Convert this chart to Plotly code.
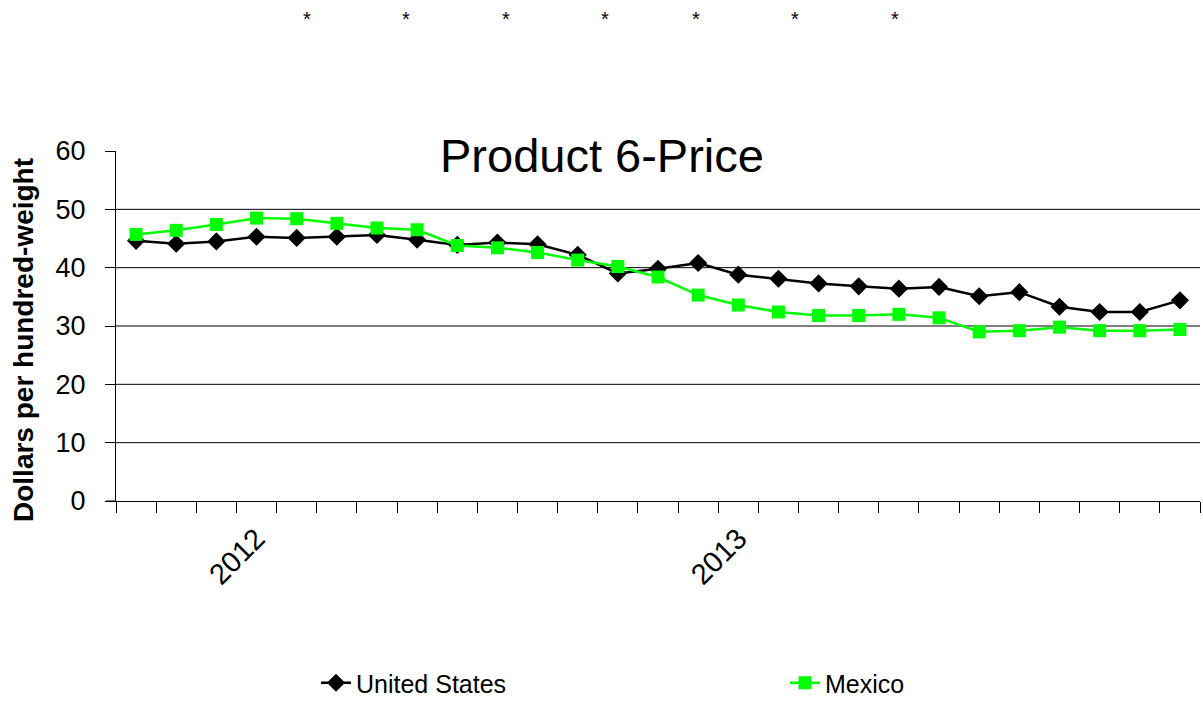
import plotly.graph_objects as go

# Monthly data, Oct 2011 .. Dec 2013 (27 points)
months = list(range(27))
us_price = [44.6, 44.1, 44.5, 45.3, 45.1, 45.3, 45.6, 44.8, 43.9, 44.3, 44.0, 42.2,
            39.0, 39.8, 40.8, 38.8, 38.1, 37.3, 36.8, 36.4, 36.7, 35.1, 35.8, 33.3,
            32.4, 32.4, 34.4]
mexico_price = [45.7, 46.4, 47.4, 48.5, 48.4, 47.6, 46.8, 46.5, 43.8, 43.4, 42.6, 41.3,
                40.2, 38.4, 35.3, 33.6, 32.4, 31.8, 31.8, 32.0, 31.4, 29.0, 29.2, 29.8,
                29.2, 29.2, 29.4]
year_tick_pos = [3, 15]
year_tick_text = ["2012", "2013"]
grid_values = [10, 20, 30, 40, 50]

FONT = "Liberation Sans, Arial, sans-serif"
W, H = 1203, 709
L, R, T, B = 116, 3, 151, 208
PW = W - L - R
PH = H - T - B

def px_x(px):
    return (px - L) / PW

def px_y(py):
    return (H - B - py) / PH

fig = go.Figure()
fig.add_trace(go.Scatter(
    x=months, y=us_price, name="United States", mode="lines+markers",
    line=dict(color="black", width=2.5),
    marker=dict(symbol="diamond", size=14, color="black"),
    legend="legend",
))
fig.add_trace(go.Scatter(
    x=months, y=mexico_price, name="Mexico", mode="lines+markers",
    line=dict(color="#00FF00", width=2.5),
    marker=dict(symbol="square", size=13, color="#00FF00"),
    legend="legend2",
))

for v in grid_values:
    fig.add_hline(y=v, line=dict(color="black", width=1), layer="below")

# small overhang of the x-axis line left of the y axis
fig.add_shape(type="line", xref="paper", yref="y", x0=-10 / PW, x1=0, y0=0, y1=0,
              line=dict(color="black", width=1))

annotations = [
    dict(text="Product 6-Price", xref="paper", yref="paper", x=px_x(602), y=px_y(156),
         xanchor="center", yanchor="middle", showarrow=False,
         font=dict(family=FONT, size=47, color="black")),
    dict(text="<b>Dollars per hundred-weight</b>", xref="paper", yref="paper",
         x=px_x(23), y=px_y(340), xanchor="center", yanchor="middle", textangle=-90,
         showarrow=False, font=dict(family=FONT, size=28, color="black")),
]
for sx in [307, 406, 506, 605, 696, 795, 895]:
    annotations.append(dict(text="*", xref="paper", yref="paper", x=px_x(sx), y=px_y(19),
                            xanchor="center", yanchor="middle", showarrow=False,
                            font=dict(family=FONT, size=20, color="black")))

legend_common = dict(orientation="h", yanchor="bottom", xanchor="left",
                     font=dict(family=FONT, size=25, color="black"),
                     bgcolor="rgba(0,0,0,0)")

fig.update_layout(
    width=W, height=H,
    margin=dict(l=L, r=R, t=T, b=B),
    paper_bgcolor="white", plot_bgcolor="white",
    font=dict(family=FONT, color="black"),
    annotations=annotations,
    showlegend=True,
    legend=dict(x=px_x(316), y=px_y(706), **legend_common),
    legend2=dict(x=px_x(785), y=px_y(706), **legend_common),
    xaxis=dict(
        range=[-0.5, 26.5], showgrid=False, zeroline=False,
        showline=True, linecolor="black", linewidth=1,
        tickmode="array", tickvals=year_tick_pos, ticktext=year_tick_text,
        tickangle=-45, ticks="outside", ticklen=8, tickcolor="rgba(0,0,0,0)",
        tickfont=dict(family=FONT, size=29, color="black"),
        minor=dict(ticks="outside", ticklen=11, tick0=-0.5, dtick=1,
                   tickcolor="black", tickwidth=1, showgrid=False),
    ),
    yaxis=dict(
        range=[0, 60], dtick=10, showgrid=False, zeroline=False,
        showline=True, linecolor="black", linewidth=1,
        ticks="outside", ticklen=10, tickcolor="black",
        ticklabelstandoff=14,
        tickfont=dict(family=FONT, size=27, color="black"),
    ),
)

fig.write_html("out.html")
